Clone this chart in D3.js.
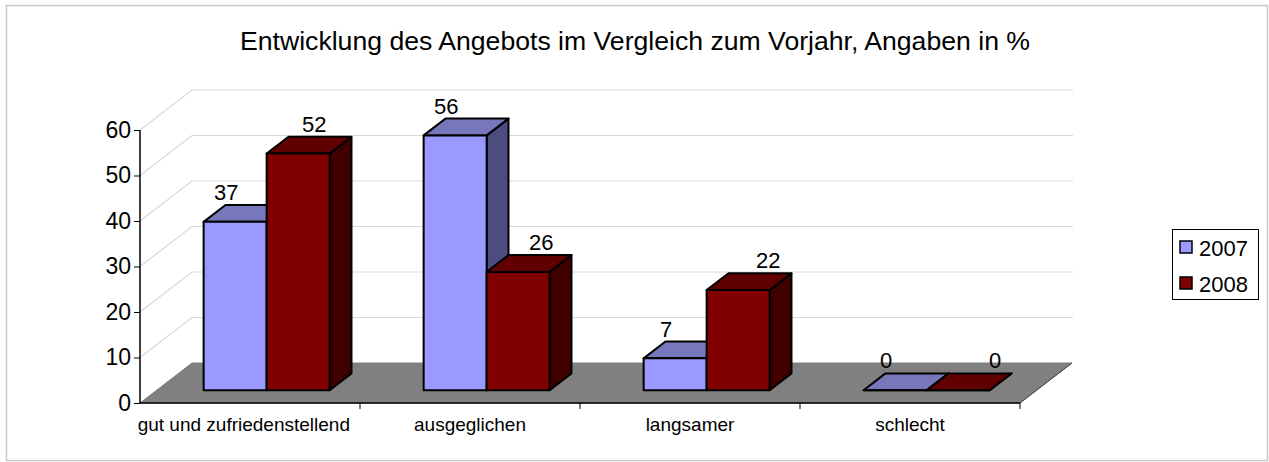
<!DOCTYPE html>
<html>
<head>
<meta charset="utf-8">
<script src="https://cdn.jsdelivr.net/npm/d3@7"></script>
<style>
  body { margin: 0; background: #fff; }
  svg text { font-family: Arial, "Liberation Sans", sans-serif; fill: #000; }
</style>
</head>
<body>
<div id="chart"></div>
<script>
// categories and series
const categories = ["gut und zufriedenstellend", "ausgeglichen", "langsamer", "schlecht"];
const seriesNames = ["2007", "2008"];
const values2007 = [37, 56, 7, 0];
const values2008 = [52, 26, 22, 0];
const yTicks = [0, 10, 20, 30, 40, 50, 60];

const title = "Entwicklung des Angebots im Vergleich zum Vorjahr, Angaben in %";

const width = 1269, height = 462;

// face colours: front, top, side
const colors = {
  "2007": { front: "#9999ff", top: "#7777bb", side: "#4c4c80" },
  "2008": { front: "#800000", top: "#600000", side: "#400000" }
};

const svg = d3.select("#chart").append("svg")
  .attr("width", width)
  .attr("height", height);

// outer frame
svg.append("rect")
  .attr("x", 6.5).attr("y", 5.5)
  .attr("width", 1261).attr("height", 455)
  .attr("fill", "#fff")
  .attr("stroke", "#c8c8c8")
  .attr("stroke-width", 1.5);

// title
svg.append("text")
  .attr("x", 635).attr("y", 50)
  .attr("text-anchor", "middle")
  .attr("textLength", 790)
  .attr("lengthAdjust", "spacingAndGlyphs")
  .style("font-size", "25px")
  .text(title);

// -- scales -- //
const x = d3.scaleBand().domain(categories).range([140, 1020]);
const xSub = d3.scaleBand().domain(seriesNames)
  .range([0, x.bandwidth()])
  .paddingOuter(0.746);
const y = d3.scaleLinear().domain([0, 60]).range([403, 130]);
// depth: 0 = front edge, 1 = back wall
const depthX = d3.scaleLinear().domain([0, 1]).range([0, 52]);
const depthY = d3.scaleLinear().domain([0, 1]).range([0, -40]);

const wallRight = 1073;

// project a point (screen x in front plane, value, depth)
const proj = (px, v, z) => [px + depthX(z), y(v) + depthY(z)];

// -- walls / gridlines -- //
const grid = svg.append("g");
yTicks.forEach((t) => {
  if (t === 0) return;
  const a = proj(140, t, 0), b = proj(140, t, 1);
  grid.append("path")
    .attr("d", d3.line()([a, b, [wallRight, b[1]]]))
    .attr("fill", "none")
    .attr("stroke", "#d9d9d9")
    .attr("stroke-width", 1.2);
});

// floor
const floorPts = [proj(140, 0, 0), proj(1020, 0, 0), proj(1020, 0, 1), proj(140, 0, 1)];
svg.append("path")
  .attr("d", d3.line()(floorPts) + "Z")
  .attr("fill", "#808080")
  .attr("stroke", "#808080");
svg.append("line")
  .attr("x1", floorPts[1][0]).attr("y1", floorPts[1][1])
  .attr("x2", floorPts[2][0]).attr("y2", floorPts[2][1])
  .attr("stroke", "#333").attr("stroke-width", 0.8);

// y axis line + ticks
const yAxis = d3.axisLeft(y).tickValues(yTicks).tickSize(6).tickPadding(3);
const yG = svg.append("g")
  .attr("transform", "translate(140,0)")
  .call(yAxis);
yG.select(".domain").attr("stroke", "#000").attr("stroke-width", 1.5)
  .attr("d", "M0," + y(60) + "V" + y(0));
yG.selectAll(".tick line").attr("stroke", "#000");
yG.selectAll(".tick text")
  .style("font-size", "23px")
  .attr("font-family", null);

// x axis line with category ticks (between categories)
const xG = svg.append("g");
xG.append("line")
  .attr("x1", 140).attr("x2", 1020)
  .attr("y1", y(0)).attr("y2", y(0))
  .attr("stroke", "#000").attr("stroke-width", 1.5);
categories.forEach((c) => {
  const xe = x(c) + x.bandwidth();
  xG.append("line")
    .attr("x1", xe).attr("x2", xe)
    .attr("y1", y(0)).attr("y2", y(0) + 6)
    .attr("stroke", "#000");
  const lbl = xG.append("text")
    .attr("y", 431)
    .style("font-size", "19px")
    .text(c);
  // centred on the band, but a long label keeps clear of the next band
  const w = lbl.node().getComputedTextLength();
  const cx = x(c) + x.bandwidth() / 2;
  lbl.attr("x", Math.min(cx - w / 2, xe - 10 - w));
});

// -- bars -- //
const zFront = 0.32, zBack = 0.74;
const bars = svg.append("g");
const labels = svg.append("g");
const seriesData = { "2007": values2007, "2008": values2008 };

categories.forEach((c, i) => {
  seriesNames.forEach((s, si) => {
    const v = seriesData[s][i];
    const x0 = x(c) + xSub(s);
    const x1 = x0 + xSub.bandwidth();
    const col = colors[s];

    const fbl = proj(x0, 0, zFront), fbr = proj(x1, 0, zFront);
    const ftl = proj(x0, v, zFront), ftr = proj(x1, v, zFront);
    const bbr = proj(x1, 0, zBack);
    const btl = proj(x0, v, zBack), btr = proj(x1, v, zBack);

    const face = (pts, fill) => bars.append("path")
      .attr("d", d3.line()(pts) + "Z")
      .attr("fill", fill)
      .attr("stroke", "#000")
      .attr("stroke-width", 2)
      .attr("stroke-linejoin", "round");

    face([fbr, ftr, btr, bbr], col.side);
    face([ftl, ftr, btr, btl], col.top);
    face([fbl, fbr, ftr, ftl], col.front);

    // data label above the bar top
    const nudge = si === 0 ? -9 : 16 + 7 * i;
    labels.append("text")
      .attr("x", (x0 + x1) / 2 + depthX(zFront) + nudge)
      .attr("y", btl[1] - 5)
      .attr("text-anchor", "middle")
      .style("font-size", "22px")
      .text(v);
  });
});

// -- legend -- //
const legend = svg.append("g");
legend.append("rect")
  .attr("x", 1172.5).attr("y", 229.5)
  .attr("width", 86).attr("height", 70)
  .attr("fill", "#fff")
  .attr("stroke", "#000");
seriesNames.forEach((s, i) => {
  const ly = 241 + i * 36;
  legend.append("rect")
    .attr("x", 1180).attr("y", ly)
    .attr("width", 12).attr("height", 12)
    .attr("fill", colors[s].front)
    .attr("stroke", "#000")
    .attr("stroke-width", 1.5);
  legend.append("text")
    .attr("x", 1199).attr("y", ly + 15)
    .style("font-size", "22px")
    .text(s);
});
</script>
</body>
</html>
